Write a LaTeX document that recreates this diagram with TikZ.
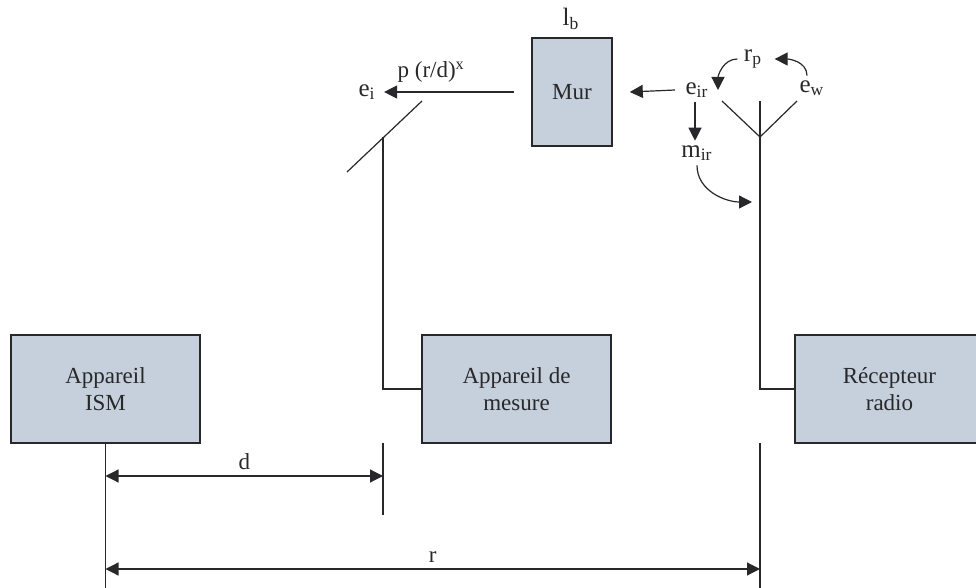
\documentclass[tikz,border=0pt]{standalone}
\usepackage{fontspec}
\setmainfont{Liberation Serif}
\usetikzlibrary{arrows.meta}
\usetikzlibrary{calc,positioning}

\definecolor{boxfill}{RGB}{197,208,220}
\definecolor{inkgray}{RGB}{40,40,42}

\begin{document}
\begin{tikzpicture}[x=0.5pt, y=-0.5pt, >={Triangle[length=6.5pt,width=6.5pt]},
  line width=0.6pt, draw=inkgray,
  every node/.style={text=inkgray, font=\fontsize{11.5}{13.5}\selectfont},
  device/.style={draw=inkgray, fill=boxfill, line width=0.8pt, inner sep=0pt,
    minimum width=94.5pt, minimum height=54pt, align=center},
  lbl/.style={inner sep=2pt, font=\fontsize{12.5}{14}\selectfont}]

    \useasboundingbox (0,0) rectangle (976,588);

    % appareils
    \node[device] (ism) at (105.5,389) {Appareil\\ISM};
    \node[device] (mes) at (516.5,389) {Appareil de\\mesure};
    \node[device] (rec) at (889.5,389) {Récepteur\\radio};
    \node[device, minimum width=40pt] (mur) at (572,92) {Mur};
    \node[lbl] (lb) at (571,19) {l\textsubscript{b}};

    % antenne de mesure
    \coordinate (mcorner) at (383,389);
    \coordinate (mfeed) at (383,137);
    \draw (mes.west) -- (mcorner) -- (mfeed);
    \draw (347,172) -- (422,101);

    % antenne du recepteur
    \coordinate (rcorner) at (760,389);
    \coordinate (rfeed) at (760,137);
    \draw (rec.west) -- (rcorner) -- (760,101);
    \draw (722,101) -- (rfeed) -- (797,101);

    % champs
    \node[lbl, inner sep=4pt] (ei) at (367,92) {e\textsubscript{i}};
    \node[anchor=base west, inner sep=0pt] (pr) at (397,78) {p (r/d)\textsuperscript{x}};
    \node[lbl, inner sep=5pt] (eir) at (697,90) {e\textsubscript{ir}};
    \node[lbl] (mir) at (697,153) {m\textsubscript{ir}};
    \node[lbl, inner sep=3pt] (rp) at (753,59) {r\textsubscript{p}};
    \node[lbl] (ew) at (812,88) {e\textsubscript{w}};

    \draw[->] ([xshift=-8.5pt]mur.west) -- (ei);
    \draw[->] (eir.west) -- ([xshift=8.5pt]mur.east);
    \draw[->, shorten <=-3pt] ([xshift=-1pt]eir.south) -- ([xshift=-1pt]mir.north);
    \coordinate (eirtop) at (718,90);
    \coordinate (mtip) at (752,202);
    \draw[->] (rp.west) to[out=180, in=90] (eirtop);
    \draw[->] ([xshift=-2.5pt]ew.north) to[out=90, in=0] ([xshift=3pt]rp.east);
    \draw[->] (mir.south) to[out=-90, in=180] (mtip);

    % distances
    \coordinate (ismfoot) at (105.5,588);
    \coordinate (mesfoot) at (383,515);
    \coordinate (recfoot) at (760,588);
    \draw (ism.south) -- (ismfoot);
    \draw (383,443) -- (mesfoot);
    \draw (760,443) -- (recfoot);

    \coordinate (dleft) at (105.5,476);
    \coordinate (dright) at (383,476);
    \draw[<->] (dleft) -- node[above, inner sep=3pt]{d} (dright);
    \coordinate (rleft) at (105.5,569);
    \coordinate (rright) at (760,569);
    \draw[<->] (rleft) -- node[above, inner sep=3pt]{r} (rright);

\end{tikzpicture}
\end{document}
